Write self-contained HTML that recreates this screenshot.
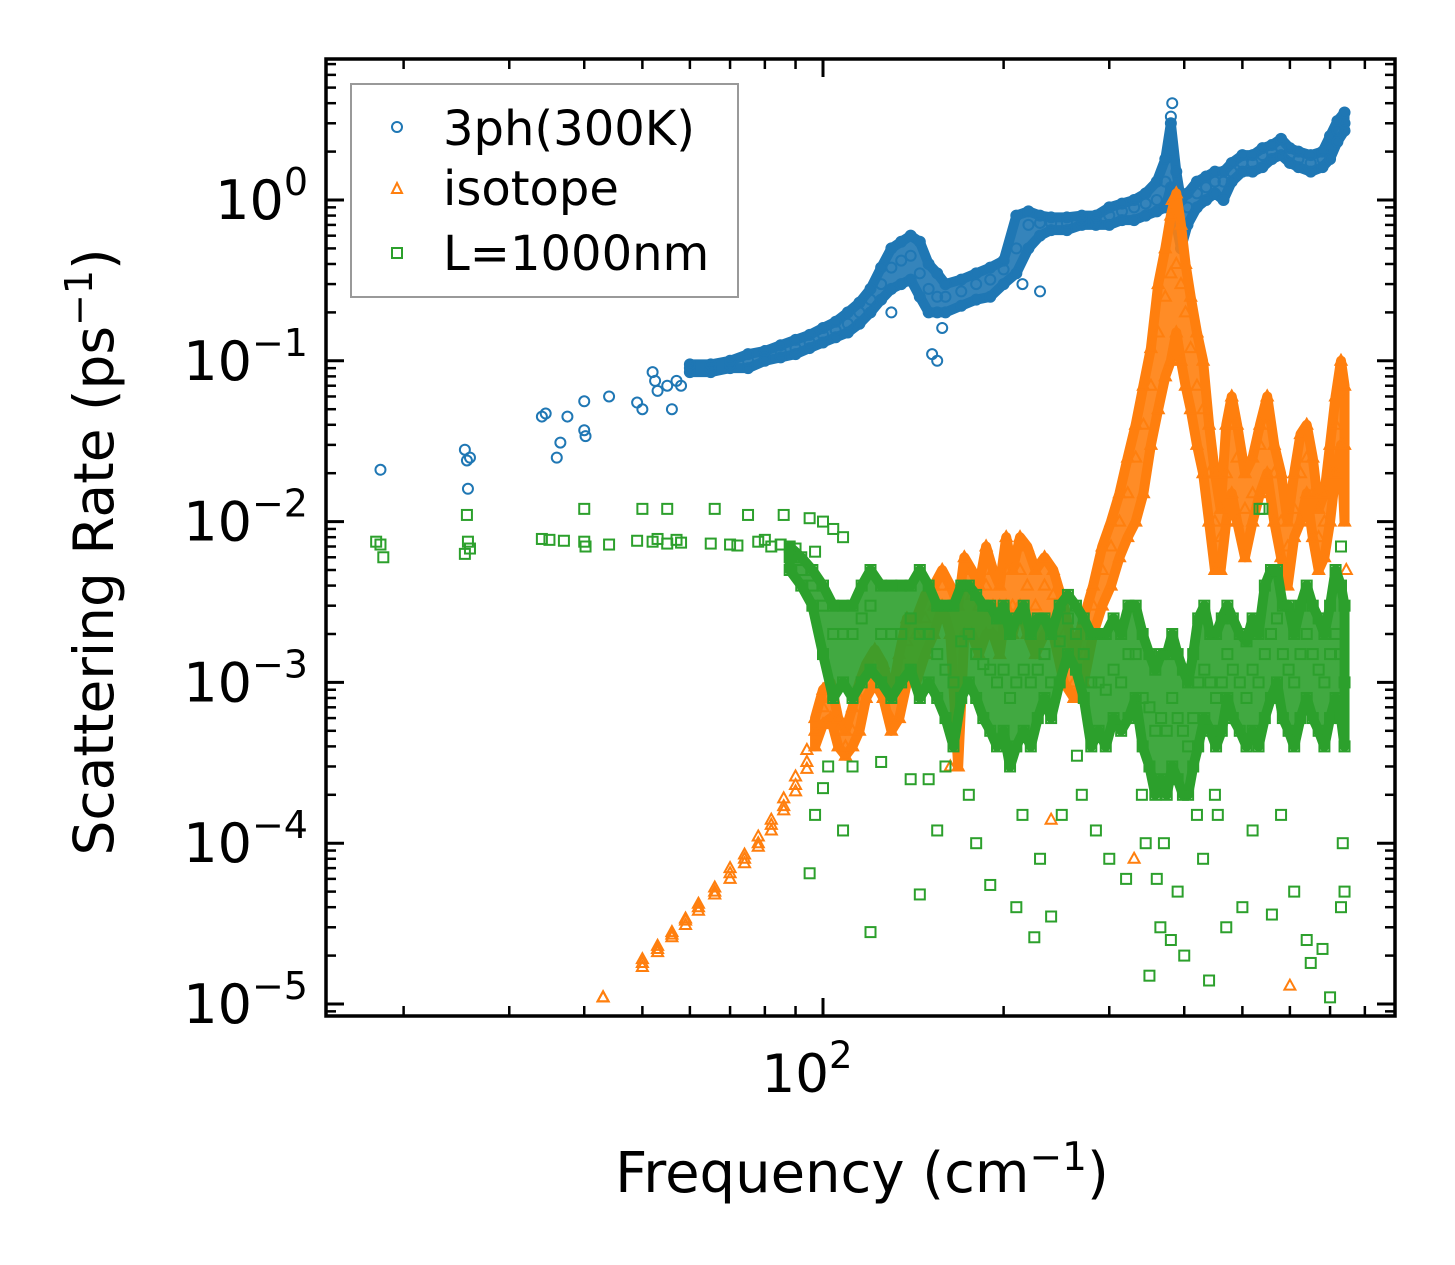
<!DOCTYPE html>
<html><head><meta charset="utf-8"><style>
html,body{margin:0;padding:0;background:#fff;}
svg{display:block;font-family:"DejaVu Sans","Liberation Sans",sans-serif;}
</style></head><body>
<svg id="chart" width="1455" height="1265" viewBox="0 0 1455 1265" xmlns="http://www.w3.org/2000/svg">
<rect x="0" y="0" width="1455" height="1265" fill="#fff"/>
<g id="marks"></g>
<g id="axes"></g>
<text x="862" y="1192" font-size="56" text-anchor="middle">Frequency (cm<tspan dy="-22" font-size="39">−1</tspan><tspan dy="22">)</tspan></text>
<text transform="translate(113,552) rotate(-90)" font-size="55" text-anchor="middle">Scattering Rate (ps<tspan dy="-21" font-size="38">−1</tspan><tspan dy="21">)</tspan></text>
<g>
<rect x="351" y="84" width="387" height="213" fill="#fff" stroke="#999" stroke-width="2"/>
<circle cx="397" cy="127" r="5" fill="none" stroke="#1f77b4" stroke-width="2"/>
<text x="443" y="145" font-size="48">3ph(300K)</text>
<polygon points="397,183 402,193 392,193" fill="none" stroke="#ff7f0e" stroke-width="2"/>
<text x="443" y="205" font-size="48">isotope</text>
<rect x="392" y="248" width="10" height="10" fill="none" stroke="#2ca02c" stroke-width="2"/>
<text x="443" y="270" font-size="48">L=1000nm</text>
</g>
</svg>
<script>
// ---- data ----
const blueBand = [[60,0.085,0.09,0.095],[65,0.085,0.09,0.095],[70,0.09,0.095,0.1],[75,0.09,0.1,0.11],[80,0.1,0.105,0.115],[85,0.105,0.115,0.125],[90,0.11,0.12,0.135],[95,0.12,0.13,0.145],[100,0.13,0.145,0.16],[105,0.14,0.155,0.175],[110,0.15,0.17,0.2],[115,0.17,0.2,0.23],[120,0.2,0.24,0.28],[125,0.24,0.3,0.38],[130,0.28,0.38,0.5],[135,0.3,0.42,0.55],[140,0.32,0.45,0.6],[145,0.25,0.35,0.55],[150,0.2,0.28,0.4],[155,0.2,0.25,0.35],[160,0.2,0.25,0.3],[170,0.22,0.27,0.32],[180,0.24,0.3,0.35],[190,0.25,0.32,0.38],[200,0.3,0.37,0.42],[210,0.35,0.5,0.8],[220,0.5,0.7,0.85],[230,0.6,0.72,0.8],[240,0.65,0.72,0.78],[255,0.65,0.72,0.78],[270,0.7,0.75,0.8],[285,0.7,0.75,0.8],[300,0.7,0.8,0.9],[315,0.75,0.85,0.95],[330,0.75,0.9,1.0],[345,0.8,0.95,1.1],[360,0.85,1.0,1.3],[372,0.9,1.3,1.8],[380,1.2,2.0,3.0],[388,0.7,1.0,1.5],[395,0.5,0.7,1.0],[405,0.7,0.9,1.1],[420,0.9,1.1,1.3],[435,1.0,1.2,1.4],[450,1.1,1.3,1.5],[465,1.0,1.3,1.5],[480,1.3,1.5,1.7],[500,1.5,1.7,1.9],[520,1.5,1.7,1.9],[540,1.6,1.9,2.1],[560,1.8,2.0,2.2],[580,1.9,2.1,2.4],[600,1.7,1.9,2.1],[620,1.6,1.8,2.0],[650,1.5,1.7,1.9],[680,1.6,1.8,2.0],[700,1.8,2.1,2.5],[720,2.3,2.7,3.1],[740,2.7,3.0,3.5]];
const bluePoints = [[18.3,0.021],[25.3,0.028],[25.5,0.024],[25.8,0.025],[25.6,0.016],[34,0.045],[34.5,0.047],[36,0.025],[36.5,0.031],[37.5,0.045],[40,0.056],[40,0.037],[40.2,0.034],[44,0.06],[49,0.055],[50,0.05],[52,0.085],[52.5,0.075],[53,0.065],[55,0.07],[56,0.05],[57,0.075],[58,0.07],[152,0.11],[155,0.1],[158,0.16],[230,0.27],[382,4.0],[380,3.3],[130,0.2],[215,0.3]];
const orangeBand = [[43,1.1e-5,1.1e-5,1.1e-5],[50,1.7e-5,1.8e-5,1.9e-5],[53,2.1e-5,2.2e-5,2.3e-5],[56,2.6e-5,2.7e-5,2.8e-5],[59,3.1e-5,3.3e-5,3.4e-5],[62,3.8e-5,4e-5,4.2e-5],[66,4.8e-5,5e-5,5.3e-5],[70,6e-5,6.5e-5,7e-5],[74,7.5e-5,8e-5,8.5e-5],[78,9.5e-5,1e-4,1.1e-4],[82,1.2e-4,1.3e-4,1.4e-4],[86,1.6e-4,1.7e-4,1.9e-4],[90,2.1e-4,2.3e-4,2.6e-4],[94,2.9e-4,3.2e-4,3.8e-4],[97,4e-4,5e-4,6e-4],[100,5.5e-4,7e-4,9e-4],[103,6e-4,8e-4,1e-3],[106,4e-4,5e-4,6e-4],[109,3.5e-4,4e-4,5e-4],[112,4e-4,5e-4,7e-4],[115,5e-4,8e-4,1e-3],[118,8e-4,1.1e-3,1.3e-3],[122,1e-3,1.3e-3,1.6e-3],[126,8e-4,1e-3,1.3e-3],[130,5e-4,6e-4,8e-4],[134,6e-4,1e-3,1.5e-3],[138,1e-3,1.8e-3,2.5e-3],[143,1e-3,2e-3,2.5e-3],[148,1.5e-3,2.5e-3,3.5e-3],[153,2e-3,3e-3,4e-3],[158,3e-3,4e-3,5e-3],[163,2e-3,3e-3,4e-3],[168,3e-4,1e-3,3e-3],[172,2e-3,4e-3,6e-3],[177,2e-3,3.5e-3,5e-3],[182,1.5e-3,3e-3,4e-3],[187,2e-3,4e-3,7e-3],[192,2e-3,3e-3,5e-3],[197,1.5e-3,3e-3,4e-3],[202,3e-3,5e-3,8e-3],[207,2e-3,3e-3,5e-3],[213,3e-3,5e-3,8e-3],[219,2e-3,4e-3,7e-3],[226,1.5e-3,3e-3,5e-3],[234,2e-3,4e-3,6e-3],[242,2e-3,3.5e-3,5e-3],[252,1e-3,2e-3,3e-3],[262,8e-4,1e-3,1.5e-3],[272,1e-3,1.5e-3,2.5e-3],[282,2e-3,3e-3,4e-3],[292,3e-3,5e-3,7e-3],[302,4e-3,7e-3,1e-2],[312,6e-3,1e-2,1.5e-2],[322,8e-3,1.5e-2,2.5e-2],[332,1e-2,2.5e-2,4e-2],[342,1.5e-2,4e-2,7e-2],[352,3e-2,7e-2,0.12],[362,5e-2,0.15,0.3],[372,0.08,0.25,0.5],[380,0.1,0.35,0.8],[388,0.15,0.4,1.1],[395,0.1,0.3,0.7],[402,0.07,0.2,0.4],[410,0.05,0.12,0.25],[420,0.03,0.07,0.15],[430,0.02,0.05,0.1],[440,0.01,0.02,0.04],[450,0.005,0.01,0.02],[460,0.005,0.008,0.012],[470,0.01,0.02,0.04],[480,0.015,0.04,0.06],[490,0.01,0.025,0.04],[505,0.006,0.012,0.02],[520,0.01,0.015,0.025],[535,0.015,0.03,0.04],[550,0.02,0.04,0.06],[565,0.01,0.02,0.03],[580,0.006,0.01,0.02],[595,0.004,0.007,0.01],[610,0.008,0.012,0.02],[625,0.01,0.02,0.035],[640,0.015,0.025,0.04],[655,0.008,0.015,0.025],[670,0.005,0.008,0.012],[685,0.006,0.01,0.015],[700,0.01,0.02,0.03],[715,0.02,0.04,0.06],[730,0.03,0.06,0.1],[740,0.01,0.03,0.07]];
const orangePoints = [[163,3e-4],[240,1.4e-4],[330,8e-5],[600,1.3e-5],[745,5e-3],[165,5.5e-4],[382,1.0]];
const greenBand = [[88,0.005,0.006,0.007],[92,0.004,0.005,0.006],[96,0.003,0.004,0.005],[100,0.0015,0.003,0.004],[104,0.0008,0.002,0.003],[108,0.001,0.002,0.003],[112,0.0008,0.002,0.003],[116,0.001,0.0025,0.004],[120,0.0012,0.003,0.005],[125,0.001,0.002,0.004],[130,0.0008,0.002,0.004],[135,0.001,0.002,0.004],[140,0.0012,0.0025,0.004],[145,0.0008,0.002,0.005],[150,0.001,0.002,0.004],[155,0.0008,0.0015,0.003],[160,0.0006,0.0012,0.003],[165,0.0004,0.001,0.003],[170,0.0008,0.0018,0.004],[175,0.001,0.002,0.004],[180,0.0008,0.0015,0.0035],[185,0.0006,0.0013,0.003],[190,0.0005,0.0012,0.003],[195,0.0004,0.001,0.0025],[200,0.0005,0.0012,0.003],[205,0.0003,0.0008,0.002],[210,0.0004,0.001,0.0025],[216,0.0005,0.0012,0.003],[222,0.0004,0.001,0.002],[228,0.0006,0.0012,0.0025],[234,0.0008,0.0015,0.0025],[240,0.0006,0.001,0.002],[248,0.001,0.0018,0.003],[256,0.0015,0.0025,0.0035],[264,0.0012,0.002,0.003],[272,0.0008,0.0015,0.0025],[280,0.0004,0.001,0.002],[288,0.0005,0.001,0.002],[296,0.0004,0.0009,0.002],[305,0.0006,0.0012,0.0025],[314,0.0005,0.001,0.002],[323,0.0006,0.0015,0.003],[332,0.0008,0.0015,0.003],[341,0.0004,0.0008,0.002],[350,0.0003,0.0007,0.0015],[358,0.0002,0.0005,0.0012],[366,0.00025,0.0006,0.0015],[374,0.0002,0.0005,0.0015],[382,0.0003,0.0008,0.002],[390,0.00025,0.0006,0.0015],[398,0.0002,0.0005,0.0012],[406,0.0002,0.0004,0.001],[414,0.0003,0.0006,0.0015],[422,0.0004,0.001,0.0025],[432,0.0006,0.0012,0.003],[442,0.0005,0.001,0.002],[452,0.0004,0.0008,0.002],[462,0.0005,0.001,0.0025],[472,0.0008,0.0015,0.003],[482,0.0006,0.0012,0.0025],[495,0.0005,0.001,0.002],[508,0.0004,0.0008,0.0018],[520,0.0005,0.0012,0.0025],[532,0.0004,0.001,0.002],[545,0.0006,0.0015,0.004],[558,0.0008,0.002,0.005],[571,0.001,0.0025,0.005],[584,0.0006,0.0015,0.003],[597,0.0005,0.0012,0.003],[610,0.0004,0.001,0.002],[625,0.0006,0.0015,0.003],[640,0.0008,0.002,0.004],[655,0.0006,0.0015,0.003],[670,0.0005,0.0012,0.0025],[685,0.0004,0.001,0.002],[700,0.0006,0.0015,0.003],[715,0.0008,0.002,0.005],[730,0.0006,0.0015,0.004],[740,0.0004,0.001,0.003]];
const greenPoints = [[18,0.0075],[18.3,0.0072],[18.5,0.006],[25.3,0.0063],[25.5,0.011],[25.8,0.0068],[25.6,0.0075],[34,0.0078],[35,0.0077],[37,0.0076],[40,0.0075],[40.2,0.007],[40,0.012],[44,0.0072],[49,0.0076],[50,0.012],[52,0.0075],[53,0.0078],[55,0.0073],[55,0.012],[57,0.0077],[58,0.0074],[65,0.0073],[66,0.012],[70,0.0072],[72,0.0071],[75,0.011],[78,0.0075],[80,0.0077],[82,0.007],[85,0.0072],[86,0.011],[90,0.0068],[95,0.0105],[97,0.0065],[100,0.01],[104,0.009],[108,0.008],
[95,6.5e-5],[97,1.5e-4],[100,2.2e-4],[102,3e-4],[108,1.2e-4],[112,3e-4],[120,2.8e-5],[125,3.2e-4],[145,4.8e-5],[150,2.5e-4],[155,1.2e-4],[175,2e-4],[180,1e-4],[190,5.5e-5],[210,4e-5],[215,1.5e-4],[225,2.6e-5],[230,8e-5],[240,3.5e-5],[250,1.5e-4],[270,2e-4],[285,1.2e-4],[300,8e-5],[320,6e-5],[340,2e-4],[350,1.5e-5],[360,6e-5],[365,3e-5],[370,1e-4],[380,2.5e-5],[390,5e-5],[400,2e-5],[420,1.5e-4],[430,8e-5],[440,1.4e-5],[450,2e-4],[470,3e-5],[500,4e-5],[520,1.2e-4],[560,3.6e-5],[580,1.5e-4],[610,5e-5],[640,2.5e-5],[650,1.8e-5],[680,2.2e-5],[700,1.1e-5],[730,4e-5],[740,5e-5],[735,1e-4],[345,1e-4],[455,1.5e-4],[265,3.5e-4],[160,3e-4],[140,2.5e-4],[534,0.012],[540,0.012],[730,0.007]];
const yTickExps = [0,-1,-2,-3,-4,-5];
const xMajorTicks = [100];
const xMinorTicks = [20,30,40,50,60,70,80,90,200,300,400,500,600,700,800];

// ---- scales ----
const L=326,R=1395,T=59,B=1016;
function xs(f){return 823+600*(Math.log10(f)-2);}
function ys(r){return 200-160.8*Math.log10(r);}
const NS="http://www.w3.org/2000/svg";
const marks=document.getElementById('marks');
const axes=document.getElementById('axes');
function mk(tag,attrs,parent){const e=document.createElementNS(NS,tag);for(const k in attrs)e.setAttribute(k,attrs[k]);parent.appendChild(e);return e;}

function circle(f,r){const e=mk('circle',{cx:xs(f),cy:ys(r),r:5,fill:'none',stroke:'#1f77b4','stroke-width':2},marks);

}
function tri(f,r){const x=xs(f),y=ys(r);const e=mk('polygon',{points:`${x},${y-6} ${x+5.5},${y+4} ${x-5.5},${y+4}`,fill:'none',stroke:'#ff7f0e','stroke-width':2},marks);

}
function sq(f,r){const e=mk('rect',{x:xs(f)-5,y:ys(r)-5,width:10,height:10,fill:'none',stroke:'#2ca02c','stroke-width':2},marks);

}
function band(rows,color,name){
  const top=rows.map(p=>xs(p[0])+','+ys(p[3]));
  const bot=rows.slice().reverse().map(p=>xs(p[0])+','+ys(p[1]));
  const e=mk('polygon',{points:top.concat(bot).join(' '),fill:color,stroke:color,'stroke-width':10,'stroke-linejoin':'round','fill-opacity':0.9},marks);
  
  
}

band(blueBand,'#1f77b4','3ph-density-band');
bluePoints.forEach(p=>circle(p[0],p[1]));
blueBand.forEach(p=>{circle(p[0],p[1]);circle(p[0],p[2]);circle(p[0],p[3]);});
band(orangeBand.filter(p=>p[0]>=96),'#ff7f0e','isotope-density-band');
orangeBand.forEach(p=>{tri(p[0],p[1]);tri(p[0],p[2]);tri(p[0],p[3]);});
orangePoints.forEach(p=>tri(p[0],p[1]));
band(greenBand,'#2ca02c','boundary-density-band');
greenPoints.forEach(p=>sq(p[0],p[1]));
greenBand.forEach(p=>{sq(p[0],p[1]);sq(p[0],p[2]);sq(p[0],p[3]);});

// frame
const fr=mk('rect',{x:L,y:T,width:R-L,height:B-T,fill:'none',stroke:'#000','stroke-width':3.5},axes);


function line(x1,y1,x2,y2,w){const e=mk('line',{x1,y1,x2,y2,stroke:'#000','stroke-width':w},axes);

}
for(let e=1;e>=-6;e--){
  for(let m=1;m<10;m++){
    const v=m*Math.pow(10,e);const y=ys(v);
    if(y<T||y>B)continue;
    const len=m===1?18:10,w=m===1?3:2.5;
    line(L,y,L+len,y,w);line(R,y,R-len,y,w);
  }
}
yTickExps.forEach(e=>{
  const t=mk('text',{x:308,y:ys(Math.pow(10,e))+19,'font-size':54,'text-anchor':'end'},axes);
  
  
  t.innerHTML='10<tspan dy="-24" font-size="38">'+(e===0?'0':'−'+(-e))+'</tspan>';
});
xMajorTicks.forEach(v=>{const x=xs(v);line(x,B,x,B-18,3);line(x,T,x,T+18,3);
  const t=mk('text',{x:x-16,y:1092,'font-size':53,'text-anchor':'middle'},axes);
  
  
  t.innerHTML='10<tspan dy="-24" font-size="37">2</tspan>';
});
xMinorTicks.forEach(v=>{const x=xs(v);if(x<L||x>R)return;line(x,B,x,B-10,2.5);line(x,T,x,T+10,2.5);});
</script>
</body></html>
